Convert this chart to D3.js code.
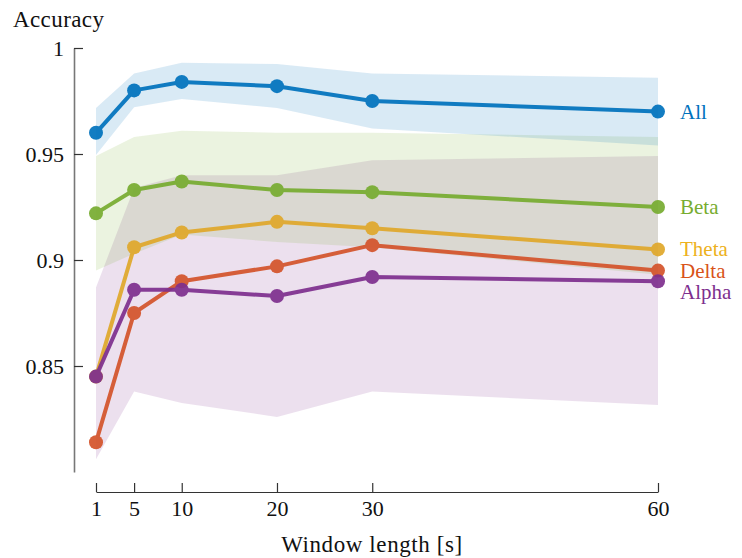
<!DOCTYPE html>
<html>
<head>
<meta charset="utf-8">
<script src="https://cdn.jsdelivr.net/npm/d3@7"></script>
<style>
  html, body { margin: 0; padding: 0; background: #fff; }
</style>
</head>
<body>
<svg id="chart" width="742" height="558"></svg>
<script>
// Window lengths (seconds) on the x axis
const windows = [1, 5, 10, 20, 30, 60];

// Mean accuracy per feature band
const seriesNames = ["All", "Beta", "Theta", "Delta", "Alpha"];
const seriesColors = ["#0072BD", "#77AC30", "#E0A82A", "#D4532A", "#7E2F8E"];
const labelColors = ["#0072BD", "#77AC30", "#EDB120", "#D95319", "#7E2F8E"];
const accAll   = [0.960, 0.980, 0.984, 0.982, 0.975, 0.970];
const accBeta  = [0.922, 0.933, 0.937, 0.933, 0.932, 0.925];
const accTheta = [0.845, 0.906, 0.913, 0.918, 0.915, 0.905];
const accDelta = [0.814, 0.875, 0.890, 0.897, 0.907, 0.895];
const accAlpha = [0.845, 0.886, 0.886, 0.883, 0.892, 0.890];

// Spread (lower / upper bounds) shown as shaded bands
const bandNames = ["Alpha", "Beta", "All"];
const lowAlpha = [0.806, 0.838, 0.8325, 0.826, 0.838, 0.8316];
const highAlpha= [0.887, 0.934, 0.940, 0.940, 0.947, 0.949];
const lowBeta  = [0.895, 0.903, 0.912, 0.9085, 0.906, 0.893];
const highBeta = [0.949, 0.958, 0.961, 0.960, 0.960, 0.958];
const lowAll   = [0.9495, 0.972, 0.976, 0.9717, 0.962, 0.954];
const highAll  = [0.9717, 0.988, 0.993, 0.9925, 0.988, 0.986];

// Axis ticks
const yTicks = [0.85, 0.9, 0.95, 1];
const yTickLabels = ["0.85", "0.9", "0.95", "1"];

const seriesValues = [accAll, accBeta, accTheta, accDelta, accAlpha];
const bandLow  = [lowAlpha, lowBeta, lowAll];
const bandHigh = [highAlpha, highBeta, highAll];

const serifFont = "Liberation Serif";

const svg = d3.select("#chart")
  .attr("font-family", serifFont);

const x = d3.scaleLinear().domain([1, 60]).range([96, 658]);
const y = d3.scaleLinear().domain([0.8, 1]).range([472, 48]);

const colorOf = name => seriesColors[seriesNames.indexOf(name)];

// Shaded bands (translucent so overlaps blend)
const area = d3.area()
  .x(d => x(d.w))
  .y0(d => y(d.lo))
  .y1(d => y(d.hi));

svg.append("g").selectAll("path")
  .data(bandNames)
  .join("path")
  .attr("d", (name, i) => area(windows.map((w, j) => ({ w, lo: bandLow[i][j], hi: bandHigh[i][j] }))))
  .attr("fill", name => colorOf(name))
  .attr("fill-opacity", 0.15)
  .attr("stroke", "none");

// Y axis: ticks point inward
const yAxis = d3.axisLeft(y)
  .tickValues(yTicks)
  .tickFormat((d, i) => yTickLabels[i])
  .tickSizeInner(-9)
  .tickSizeOuter(0)
  .tickPadding(10);

const gy = svg.append("g")
  .attr("transform", "translate(74,0)")
  .call(yAxis)
  .attr("font-family", serifFont)
  .attr("font-size", 22);
gy.select(".domain").attr("stroke", "#777").attr("stroke-width", 1.6);
gy.selectAll(".tick line").attr("stroke", "#333").attr("stroke-width", 1.2);
gy.selectAll(".tick text").attr("fill", "#111");

// X axis: ticks point upward
const xAxis = d3.axisBottom(x)
  .tickValues(windows)
  .tickFormat(d3.format("d"))
  .tickSizeInner(-9)
  .tickSizeOuter(0)
  .tickPadding(8);

const gx = svg.append("g")
  .attr("transform", "translate(0,492)")
  .call(xAxis)
  .attr("font-family", serifFont)
  .attr("font-size", 22);
gx.select(".domain").attr("stroke", "#333").attr("stroke-width", 1.2);
gx.selectAll(".tick line").attr("stroke", "#333").attr("stroke-width", 1.2);
gx.selectAll(".tick text").attr("fill", "#111");

// Lines and markers
const line = d3.line()
  .x((d, j) => x(windows[j]))
  .y(d => y(d));

const groups = svg.append("g").selectAll("g")
  .data(seriesNames)
  .join("g")
  .attr("opacity", 0.92);

groups.append("path")
  .attr("d", (name, i) => line(seriesValues[i]))
  .attr("fill", "none")
  .attr("stroke", (name, i) => seriesColors[i])
  .attr("stroke-width", 4)
  .attr("stroke-linejoin", "round");

groups.selectAll("circle")
  .data((name, i) => seriesValues[i].map((v, j) => ({ v, w: windows[j], c: seriesColors[i] })))
  .join("circle")
  .attr("cx", d => x(d.w))
  .attr("cy", d => y(d.v))
  .attr("r", 7)
  .attr("fill", d => d.c);

// End labels, nudged apart where they would collide
const lastIdx = windows.length - 1;
const labels = seriesNames.map((name, i) => ({ name, color: labelColors[i], y: y(seriesValues[i][lastIdx]) }))
  .sort((a, b) => a.y - b.y);
const minGap = 21;
for (let k = 1; k < labels.length; k++) {
  if (labels[k].y - labels[k - 1].y < minGap) labels[k].y = labels[k - 1].y + minGap;
}

svg.append("g").selectAll("text")
  .data(labels)
  .join("text")
  .attr("x", x(60) + 22)
  .attr("y", d => d.y)
  .attr("dy", "0.33em")
  .attr("fill", d => d.color)
  .attr("font-size", 21)
  .text(d => d.name);

// Axis titles
svg.append("text")
  .attr("x", 13)
  .attr("y", 27)
  .attr("fill", "#111")
  .attr("font-size", 23)
  .attr("letter-spacing", 0.4)
  .text("Accuracy");

svg.append("text")
  .attr("x", 372)
  .attr("y", 552)
  .attr("text-anchor", "middle")
  .attr("fill", "#111")
  .attr("font-size", 23)
  .attr("letter-spacing", 0.6)
  .text("Window length [s]");
</script>
</body>
</html>
